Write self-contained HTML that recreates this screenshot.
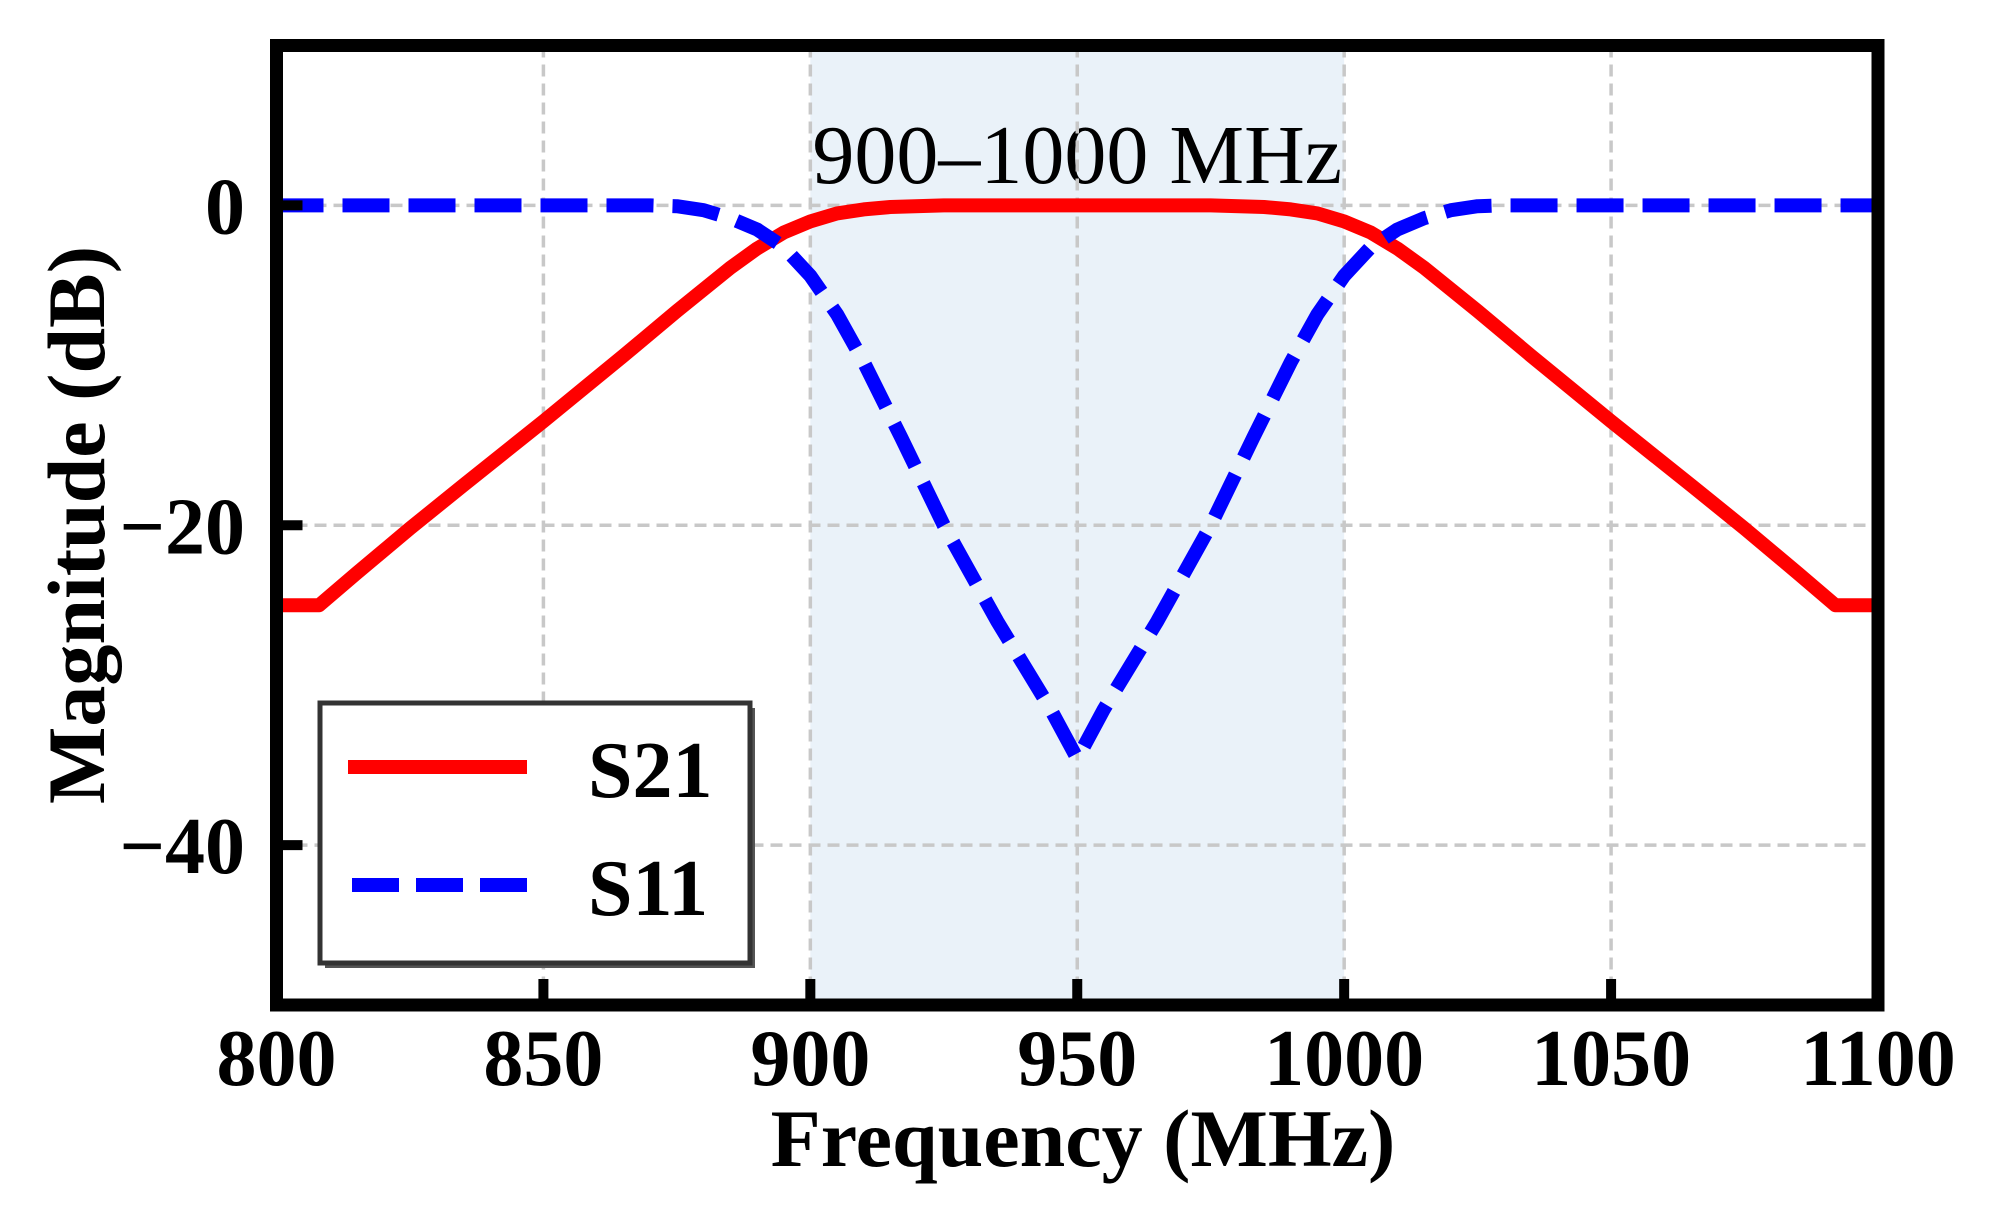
<!DOCTYPE html>
<html><head><meta charset="utf-8"><style>
html,body{margin:0;padding:0;background:#fff;}
svg{display:block;font-family:"Liberation Serif",serif;}
</style></head><body>
<svg id="chart" width="1995" height="1209" viewBox="0 0 1995 1209" xmlns="http://www.w3.org/2000/svg">
<g id="bg"></g><g id="grid"></g><g id="series"></g><g id="axes"></g>
</svg>
<script>
const xTicks = [800, 850, 900, 950, 1000, 1050, 1100];
const yTicks = [0, -20, -40];
const yTickLabels = ["0", "\u221220", "\u221240"];
const s21Freq = [800,808,815,825,835,850,865,875,885,890,895,900,905,910,915,925,950,975,985,990,995,1000,1005,1010,1015,1025,1035,1050,1065,1075,1085,1092,1100];
const s21Vals = [-25,-25,-23,-20.2,-17.5,-13.5,-9.4,-6.6,-3.9,-2.7,-1.7,-1.0,-0.5,-0.25,-0.1,0,0,0,-0.1,-0.25,-0.5,-1.0,-1.7,-2.7,-3.9,-6.6,-9.4,-13.5,-17.5,-20.2,-23,-25,-25];
const s11Freq = [800,870,875,880,885,890,895,900,905,910,917,925,935,945,950,955,965,975,983,990,995,1000,1005,1010,1015,1020,1025,1030,1100];
const s11Vals = [0,0,-0.05,-0.3,-0.8,-1.5,-2.6,-4.4,-6.8,-9.8,-14.5,-20,-26,-31.5,-34.6,-31.5,-26,-20,-14.5,-9.8,-6.8,-4.4,-2.6,-1.5,-0.8,-0.3,-0.05,0,0];
const band = [900, 1000];

const X0=276.5, X1=1878, Y0=1005, Y1=45.5, XMIN=800, XMAX=1100, YMIN=-50, YMAX=10;
const sx = v => X0 + (v-XMIN)/(XMAX-XMIN)*(X1-X0);
const sy = v => Y0 - (v-YMIN)/(YMAX-YMIN)*(Y0-Y1);
const NS="http://www.w3.org/2000/svg";
function mk(tag, attrs, parent){const e=document.createElementNS(NS,tag);for(const k in attrs)e.setAttribute(k,attrs[k]);parent.appendChild(e);return e;}
const bg=document.getElementById('bg'), grid=document.getElementById('grid'), ser=document.getElementById('series'), ax=document.getElementById('axes');

let r=mk('rect',{x:sx(band[0]),y:Y1,width:sx(band[1])-sx(band[0]),height:Y0-Y1,fill:'#eaf2f9'},bg);



xTicks.forEach(t=>{
  if(t===XMIN||t===XMAX) return;
  const l=mk('line',{x1:sx(t),x2:sx(t),y1:Y1,y2:Y0,stroke:'#c8c8c8','stroke-width':3.5,'stroke-dasharray':'12 7'},grid);
  
  
});
yTicks.forEach(t=>{
  const l=mk('line',{x1:X0,x2:X1,y1:sy(t),y2:sy(t),stroke:'#c8c8c8','stroke-width':3.5,'stroke-dasharray':'12 7'},grid);
  
  
});

let t=mk('text',{x:sx(950),y:183,'text-anchor':'middle','font-size':84,fill:'#000'},bg);
t.textContent='900\u20131000 MHz';



function pts(fs,vs){return fs.map((f,i)=>sx(f).toFixed(1)+','+sy(vs[i]).toFixed(1)).join(' ');}
let p1=mk('polyline',{points:pts(s21Freq,s21Vals),fill:'none',stroke:'#ff0000','stroke-width':14,'stroke-linejoin':'round'},ser);


let p2=mk('polyline',{points:pts(s11Freq,s11Vals),fill:'none',stroke:'#0000ff','stroke-width':14,'stroke-dasharray':'47 19','stroke-linejoin':'round'},ser);



let fr=mk('rect',{x:X0,y:Y1,width:X1-X0,height:Y0-Y1,fill:'none',stroke:'#000','stroke-width':13},ax);



xTicks.forEach(v=>{
  const tk=mk('line',{x1:sx(v),x2:sx(v),y1:Y0,y2:Y0-26,stroke:'#000','stroke-width':10},ax);
  
  
  const lb=mk('text',{x:sx(v),y:1085,'text-anchor':'middle','font-size':80,'font-weight':'bold'},ax);
  lb.textContent=String(v);
  
  
});
yTicks.forEach((v,i)=>{
  const tk=mk('line',{x1:X0,x2:X0+26,y1:sy(v),y2:sy(v),stroke:'#000','stroke-width':10},ax);
  
  
  const lb=mk('text',{x:245,y:sy(v)+28,'text-anchor':'end','font-size':80,'font-weight':'bold'},ax);
  lb.textContent=yTickLabels[i];
  
  
});

let xl=mk('text',{x:1083,y:1166,'text-anchor':'middle','font-size':82,'font-weight':'bold'},ax);
xl.textContent='Frequency (MHz)';


let yl=mk('text',{x:0,y:0,'text-anchor':'middle','font-size':82,'font-weight':'bold',transform:'translate(104,525) rotate(-90)'},ax);
yl.textContent='Magnitude (dB)';



const lg=mk('g',{},ax);


mk('rect',{x:325,y:708,width:430,height:260,fill:'#555'},lg);
mk('rect',{x:320,y:703,width:430,height:260,fill:'#fff',stroke:'#333','stroke-width':5},lg);
let l1=mk('line',{x1:348,x2:527,y1:767,y2:767,stroke:'#ff0000','stroke-width':14},lg);


let t1=mk('text',{x:588,y:797,'font-size':80,'font-weight':'bold'},lg);
t1.textContent='S21';


let l2=mk('line',{x1:352,x2:527,y1:885,y2:885,stroke:'#0000ff','stroke-width':14,'stroke-dasharray':'47 17'},lg);


let t2=mk('text',{x:588,y:915,'font-size':80,'font-weight':'bold'},lg);
t2.textContent='S11';


</script>
</body></html>
